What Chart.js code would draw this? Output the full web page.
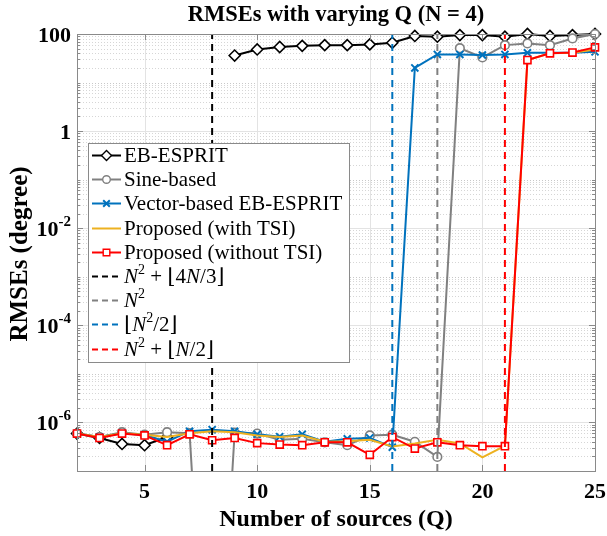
<!DOCTYPE html>
<html><head><meta charset="utf-8">
<script src="https://cdn.jsdelivr.net/npm/chart.js@4/dist/chart.umd.min.js"></script>
<style>html,body{margin:0;padding:0;background:#fff;}#wrap{width:607px;height:536px;}</style>
</head><body><div id="wrap"><canvas id="c" width="607" height="536"></canvas></div>
<script>
// ---------------- data ----------------
const Q = [2,3,4,5,6,7,8,9,10,11,12,13,14,15,16,17,18,19,20,21,22,23,24,25];
const ebEsprit  = [5.9e-7,4.8e-7,3.6e-7,3.4e-7,5.0e-7,null,null,36,48,54,57,59,59,61,66,91,88,95,95,88,100,91,95,100];
const sineBased = [5.9e-7,5.0e-7,6.3e-7,5.6e-7,6.3e-7,6.0e-7,1e-14,6.2e-7,5.9e-7,4.4e-7,4.6e-7,3.9e-7,3.4e-7,5.4e-7,5.6e-7,4.0e-7,1.95e-7,51,33,59,64,59,81,100];
const vectorEB  = [5.9e-7,5.0e-7,6.0e-7,5.5e-7,4.0e-7,6.6e-7,7.1e-7,6.6e-7,5.7e-7,5.1e-7,5.7e-7,4.0e-7,4.6e-7,4.8e-7,3.1e-7,20,38,38,37,38,41,41,41,43];
const propTSI   = [5.9e-7,5.0e-7,6.0e-7,5.6e-7,5.0e-7,6.0e-7,6.6e-7,6.3e-7,5.4e-7,5.0e-7,5.4e-7,4.0e-7,4.1e-7,4.4e-7,3.2e-7,3.7e-7,4.4e-7,3.7e-7,1.9e-7,3.3e-7,29,40,41,48];
const propNoTSI = [5.9e-7,4.8e-7,5.9e-7,5.4e-7,3.4e-7,5.7e-7,4.3e-7,4.8e-7,3.75e-7,3.5e-7,3.4e-7,3.9e-7,3.9e-7,2.15e-7,5.0e-7,2.9e-7,3.9e-7,3.4e-7,3.25e-7,3.25e-7,29,40,41.5,53];
const boundBlack = 8, boundGray = 18, boundBlue = 16, boundRed = 21;
const seriesLabels = ['EB-ESPRIT','Sine-based','Vector-based EB-ESPRIT','Proposed (with TSI)','Proposed (without TSI)'];
const boundLabels = [
  [['N','i'],['2','s'],[' + \u230A4','r'],['N','i'],['/3\u230B','r']],
  [['N','i'],['2','s']],
  [['\u230A','r'],['N','i'],['2','s'],['/2\u230B','r']],
  [['N','i'],['2','s'],[' + \u230A','r'],['N','i'],['/2\u230B','r']]
];
const xTickValues = [5,10,15,20,25];
const yTickValues = [100,1,1e-2,1e-4,1e-6];
const yTickLabels = [['100',''],['1',''],['10','-2'],['10','-4'],['10','-6']];
const titleText = 'RMSEs with varying Q (N = 4)';
const xTitle = 'Number of sources (Q)';
const yTitle = 'RMSEs (degree)';
const Y_MIN = 1e-7, Y_MAX = 100, X_MIN = 2, X_MAX = 25;

// ---------------- styles ----------------
const C_BLACK='#000000', C_GRAY='#808080', C_BLUE='#0072BD', C_YEL='#EDB120', C_RED='#FF0000';
const SERIF = '"Liberation Serif","Times New Roman","DejaVu Serif",serif';
const CLIP = {left:8, top:8, right:8, bottom:0};
const pts = arr => Q.map((q,i)=>({x:q, y:arr[i]}));
const vline = q => [{x:q,y:Y_MIN},{x:q,y:Y_MAX}];

const datasets = [
  {data:pts(ebEsprit), borderColor:C_BLACK, borderWidth:2, pointStyle:'rectRot', pointRadius:5.5, pointBorderColor:C_BLACK, pointBackgroundColor:'#fff', pointBorderWidth:1.6, order:9, clip:CLIP},
  {data:pts(sineBased), borderColor:C_GRAY, borderWidth:2, pointStyle:'circle', pointRadius:4.3, pointBorderColor:C_GRAY, pointBackgroundColor:'#fff', pointBorderWidth:1.6, order:8, clip:CLIP},
  {data:pts(vectorEB), borderColor:C_BLUE, borderWidth:2, pointStyle:'crossRot', pointRadius:5, pointBorderColor:C_BLUE, pointBorderWidth:2, order:7, clip:CLIP},
  {data:pts(propTSI), borderColor:C_YEL, borderWidth:2, pointRadius:0, order:6, clip:CLIP},
  {data:pts(propNoTSI), borderColor:C_RED, borderWidth:2, pointStyle:'rect', pointRadius:5, pointBorderColor:C_RED, pointBackgroundColor:'#fff', pointBorderWidth:1.6, order:5, clip:CLIP},
  {data:vline(boundBlack), borderColor:C_BLACK, borderWidth:2, borderDash:[7,5], pointRadius:0, order:4},
  {data:vline(boundGray), borderColor:C_GRAY, borderWidth:2, borderDash:[7,5], pointRadius:0, order:3},
  {data:vline(boundBlue), borderColor:C_BLUE, borderWidth:2, borderDash:[7,5], pointRadius:0, order:2},
  {data:vline(boundRed), borderColor:C_RED, borderWidth:2, borderDash:[7,5], pointRadius:0, order:1}
];

function drawRich(ctx, segs, x, y, size, weight, align){
  const f = st => {
    if (st==='i') return `italic ${weight} ${size}px ${SERIF}`;
    if (st==='s') return `${weight} ${Math.round(size*0.68)}px ${SERIF}`;
    return `${weight} ${size}px ${SERIF}`;
  };
  let w=0;
  segs.forEach(([t,st])=>{ctx.font=f(st); w+=ctx.measureText(t).width;});
  let cx = align==='right' ? x-w : x;
  segs.forEach(([t,st])=>{
    ctx.font=f(st);
    ctx.fillText(t, cx, st==='s' ? y-size*0.36 : y);
    cx += ctx.measureText(t).width;
  });
}

const decor = {
  id:'decor',
  beforeDatasetsDraw(chart){
    const {ctx, chartArea:a, scales:{x,y}} = chart;
    ctx.save();
    ctx.lineWidth=1;
    for (let e=-7; e<2; e++){
      for (let m=1; m<10; m++){
        const v = m*Math.pow(10,e);
        if (v<=Y_MIN*1.0001 || v>=Y_MAX*0.9999) continue;
        const py = Math.round(y.getPixelForValue(v))+0.5;
        const major = (m===1 && ((e%2)+2)%2===0);
        ctx.beginPath();
        if (major){ ctx.setLineDash([]); ctx.strokeStyle='#e3e3e3'; }
        else { ctx.setLineDash([1,2]); ctx.strokeStyle= m===1 ? '#c8c8c8' : '#d6d6d6'; }
        ctx.moveTo(a.left,py); ctx.lineTo(a.right,py); ctx.stroke();
      }
    }
    ctx.setLineDash([]);
    ctx.strokeStyle='#e3e3e3';
    xTickValues.forEach(v=>{
      if (v>=X_MAX) return;
      const px = Math.round(x.getPixelForValue(v))+0.5;
      ctx.beginPath(); ctx.moveTo(px,a.top); ctx.lineTo(px,a.bottom); ctx.stroke();
    });
    ctx.restore();
  },
  afterDraw(chart){
    const {ctx, chartArea:a, scales:{x,y}} = chart;
    ctx.save();
    ctx.strokeStyle='#8a8a8a'; ctx.lineWidth=1;
    ctx.strokeRect(Math.round(a.left)+0.5, Math.round(a.top)+0.5, Math.round(a.right-a.left), Math.round(a.bottom-a.top));
    ctx.beginPath();
    for (let e=-7; e<2; e++){
      for (let m=1; m<10; m++){
        const v=m*Math.pow(10,e);
        if (v<=Y_MIN*1.0001 || v>=Y_MAX*0.9999) continue;
        const py=Math.round(y.getPixelForValue(v))+0.5;
        const major=(m===1 && ((e%2)+2)%2===0);
        const L = major?6:3;
        ctx.moveTo(a.left,py); ctx.lineTo(a.left+L,py);
        ctx.moveTo(a.right,py); ctx.lineTo(a.right-L,py);
      }
    }
    xTickValues.forEach(v=>{
      const px=Math.round(x.getPixelForValue(v))+0.5;
      ctx.moveTo(px,a.bottom); ctx.lineTo(px,a.bottom-6);
      ctx.moveTo(px,a.top); ctx.lineTo(px,a.top+6);
    });
    ctx.stroke();

    ctx.fillStyle='#000';
    ctx.textBaseline='middle';
    ctx.textAlign='center';
    ctx.font=`bold 22.5px ${SERIF}`;
    ctx.fillText(titleText, (a.left+a.right)/2, 15);
    ctx.font=`bold 22px ${SERIF}`;
    xTickValues.forEach(v=>ctx.fillText(String(v), x.getPixelForValue(v), 492));
    ctx.font=`bold 24px ${SERIF}`;
    ctx.fillText(xTitle, (a.left+a.right)/2, 520);
    ctx.save();
    ctx.font=`bold 25px ${SERIF}`;
    ctx.translate(21, 254);
    ctx.rotate(-Math.PI/2);
    ctx.fillText(yTitle, 0, 0);
    ctx.restore();
    ctx.textAlign='left';
    yTickValues.forEach((v,i)=>{
      const [b,s]=yTickLabels[i];
      const segs=[[b,'r']]; if(s) segs.push([s,'s']);
      drawRich(ctx, segs, 71, y.getPixelForValue(v)+2, 22, 'bold', 'right');
    });

    const lx=88.5, ly=143.5, lw=261, lh=219;
    ctx.fillStyle='#fff'; ctx.fillRect(lx,ly,lw,lh);
    ctx.strokeStyle='#8a8a8a'; ctx.lineWidth=1; ctx.strokeRect(lx,ly,lw,lh);
    const colors=[C_BLACK,C_GRAY,C_BLUE,C_YEL,C_RED,C_BLACK,C_GRAY,C_BLUE,C_RED];
    const styles=['rectRot','circle','crossRot',null,'rect',null,null,null,null];
    for (let i=0;i<9;i++){
      const cy=Math.round(155+i*24.2)+0.5;
      ctx.strokeStyle=colors[i]; ctx.lineWidth=2;
      ctx.setLineDash(i>=5?[6,4]:[]);
      ctx.beginPath(); ctx.moveTo(92,cy); ctx.lineTo(121,cy); ctx.stroke();
      ctx.setLineDash([]);
      if (styles[i]){
        ctx.fillStyle='#fff';
        ctx.lineWidth = styles[i]==='crossRot'?2:1.4;
        const mx=106.5, r=5;
        ctx.beginPath();
        if(styles[i]==='rectRot'){ctx.moveTo(mx-r,cy);ctx.lineTo(mx,cy-r);ctx.lineTo(mx+r,cy);ctx.lineTo(mx,cy+r);ctx.closePath();ctx.fill();ctx.stroke();}
        else if(styles[i]==='circle'){ctx.arc(mx,cy,3.8,0,Math.PI*2);ctx.fill();ctx.stroke();}
        else if(styles[i]==='crossRot'){ctx.moveTo(mx-3.3,cy-3.3);ctx.lineTo(mx+3.3,cy+3.3);ctx.moveTo(mx-3.3,cy+3.3);ctx.lineTo(mx+3.3,cy-3.3);ctx.stroke();}
        else {ctx.rect(mx-3.3,cy-3.3,6.6,6.6);ctx.fill();ctx.stroke();}
      }
      ctx.fillStyle='#000';
      const segs = i<5 ? [[seriesLabels[i],'r']] : boundLabels[i-5];
      drawRich(ctx, segs, 124, cy+1, 21, 'normal', 'left');
    }
    ctx.restore();
  }
};

new Chart(document.getElementById('c'), {
  type:'line',
  data:{datasets},
  options:{
    responsive:false, animation:false, devicePixelRatio:1, events:[],
    layout:{padding:{left:77, top:34, right:12, bottom:65}},
    plugins:{legend:{display:false}, title:{display:false}, tooltip:{enabled:false}},
    elements:{line:{tension:0, fill:false}},
    scales:{
      x:{type:'linear', min:X_MIN, max:X_MAX, display:false},
      y:{type:'logarithmic', min:Y_MIN, max:Y_MAX, display:false}
    }
  },
  plugins:[decor]
});
</script>
</body></html>
